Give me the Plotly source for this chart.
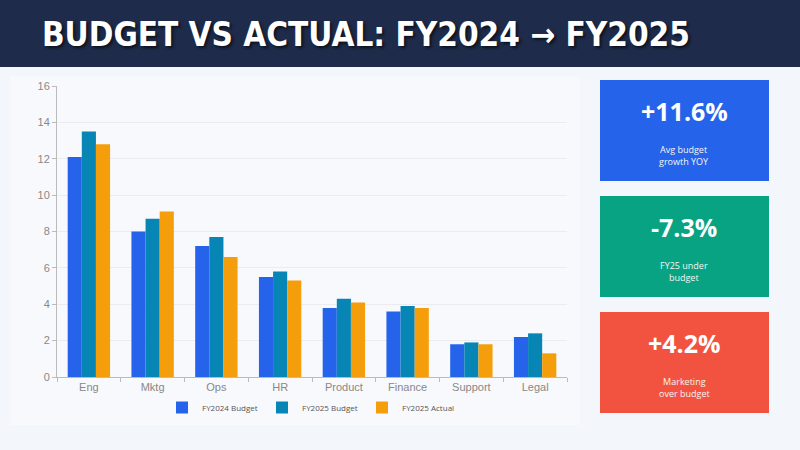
import plotly.graph_objects as go

# data
depts = ["Eng", "Mktg", "Ops", "HR", "Product", "Finance", "Support", "Legal"]
fy24_budget = [12.1, 8.0, 7.2, 5.5, 3.8, 3.6, 1.8, 2.2]
fy25_budget = [13.5, 8.7, 7.7, 5.8, 4.3, 3.9, 1.9, 2.4]
fy25_actual = [12.8, 9.1, 6.6, 5.3, 4.1, 3.8, 1.8, 1.3]

series_names = ["FY2024 Budget", "FY2025 Budget", "FY2025 Actual"]
series_colors = ["#2563eb", "#0786b5", "#f59e0b"]

kpi_values = ["+11.6%", "-7.3%", "+4.2%"]
kpi_labels = ["Avg budget<br>growth YOY", "FY25 under<br>budget", "Marketing<br>over budget"]
kpi_colors = ["#2563eb", "#07a382", "#f25340"]

W, H = 800, 450

fig = go.Figure()
for name, vals, col in zip(series_names, [fy24_budget, fy25_budget, fy25_actual], series_colors):
    fig.add_trace(go.Bar(x=depts, y=vals, name=name, marker=dict(color=col, line=dict(width=0))))

fig.update_layout(
    width=W, height=H,
    paper_bgcolor="#f3f7fc",
    plot_bgcolor="#f8f9fc",
    margin=dict(l=57, r=233, t=86, b=73, autoexpand=False),
    barmode="group",
    bargap=0.335,
    bargroupgap=0,
    font=dict(family="Liberation Sans, Arial", color="#888"),
    legend=dict(orientation="h", x=0.5, xanchor="center", y=-0.055, yanchor="top",
                font=dict(family="Open Sans", size=8, color="#555"),
                itemwidth=30, entrywidth=55, tracegroupgap=0, bgcolor="rgba(0,0,0,0)"),
    showlegend=True,
)
fig.update_xaxes(showline=True, linecolor="#bbb", linewidth=1, ticks="outside", tickson="boundaries",
                 ticklen=4, tickcolor="#bbb", tickfont=dict(size=11, color="#888"), showgrid=False)
fig.update_yaxes(range=[0, 16], dtick=2, showline=True, linecolor="#bbb", linewidth=1, ticks="outside",
                 ticklen=4, tickcolor="#bbb", tickfont=dict(size=11, color="#888"),
                 gridcolor="#ebebf0", zeroline=False)


# pixel positions -> paper coords
def px_x(x):
    return (x - 57) / 510


def px_y(y):
    return (377 - y) / 291


# chart panel
fig.add_shape(type="rect", xref="paper", yref="paper", layer="below",
              x0=px_x(10), x1=px_x(580), y0=px_y(425), y1=px_y(76),
              fillcolor="#f8f9fc", line=dict(width=0))

# header bar
fig.add_shape(type="rect", xref="paper", yref="paper", x0=px_x(0), x1=px_x(W), y0=px_y(67), y1=px_y(0),
              fillcolor="#1e2b4a", line=dict(width=0))
fig.add_annotation(xref="paper", yref="paper", x=px_x(40), y=px_y(35), xanchor="left", yanchor="middle",
                   text="<b>BUDGET VS ACTUAL: FY2024 → FY2025</b>", showarrow=False,
                   font=dict(family="DejaVu Sans Condensed, Roboto Condensed, Roboto", size=33, color="white",
                             shadow="2px 2px 3px rgba(0,0,0,0.6)"))

card_tops = [80, 196, 312]
for top, val, lab, col in zip(card_tops, kpi_values, kpi_labels, kpi_colors):
    fig.add_shape(type="rect", xref="paper", yref="paper", x0=px_x(600), x1=px_x(769),
                  y0=px_y(top + 101), y1=px_y(top), fillcolor=col, line=dict(width=0))
    fig.add_annotation(xref="paper", yref="paper", x=px_x(684), y=px_y(top + 31), xanchor="center",
                       yanchor="middle", text="<b>" + val + "</b>", showarrow=False,
                       font=dict(family="Open Sans", size=25, color="white"))
    fig.add_annotation(xref="paper", yref="paper", x=px_x(684), y=px_y(top + 75), xanchor="center",
                       yanchor="middle", text=lab, showarrow=False,
                       font=dict(family="Open Sans", size=9, color="#f4f4f4"))

fig.write_html("out.html", config={"displayModeBar": False},
               post_script="document.body.style.margin='0';")
